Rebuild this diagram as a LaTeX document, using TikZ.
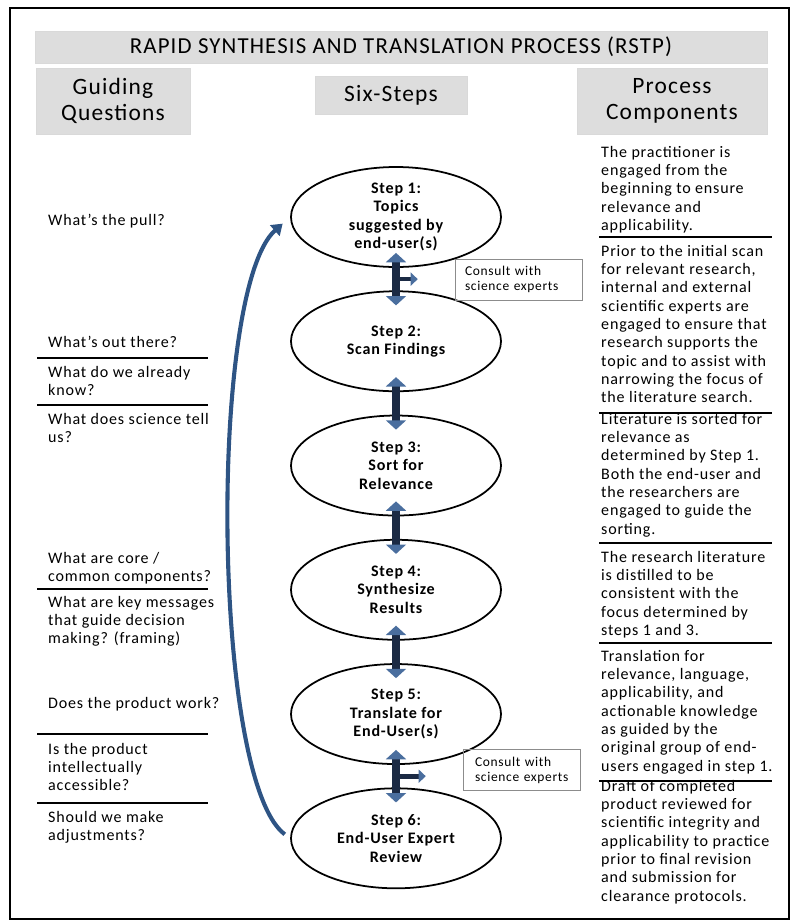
\documentclass[tikz,border=0pt]{standalone}
\usepackage{fontspec}
\setmainfont{Carlito}
\newfontfamily\rstpfont[LetterSpace=5]{Carlito}
\usetikzlibrary{shapes.geometric,arrows.meta,positioning}
\definecolor{linknavy}{HTML}{1B2A44}
\definecolor{linkblue}{HTML}{4A6E9E}
\definecolor{loopblue}{HTML}{2E5484}
\definecolor{headgrey}{HTML}{DDDDDD}
\begin{document}
\begin{tikzpicture}[x=0.03cm, y=-0.03cm, node distance=0.675cm,
    txt/.style={anchor=north west, inner sep=0pt, align=left, font=\rstpfont\fontsize{13.7}{15.6}\selectfont},
    head/.style={fill=headgrey, draw=black!15, inner sep=0pt, align=center, font=\rstpfont\fontsize{20}{22.2}\selectfont},
    stepnode/.style={ellipse, draw, line width=1.5pt, minimum width=6.3cm, minimum height=3cm, inner sep=0pt, align=center, font=\rstpfont\bfseries\fontsize{13.7}{15.6}\selectfont},
    consult/.style={draw=black!45, inner ysep=0pt, align=left, minimum height=1.22cm, font=\rstpfont\fontsize{11.5}{12.8}\selectfont},
    link/.style={line width=6pt, draw=linknavy, {Triangle[color=linkblue,width=17pt,length=8pt]}-{Triangle[color=linkblue,width=17pt,length=8pt]}, shorten <=-0.45cm, shorten >=-0.45cm},
    branch/.style={line width=4pt, draw=linknavy, -{Triangle[color=linkblue,width=11pt,length=6pt]}, shorten >=1.11cm},
    backarrow/.style={line width=3.5pt, draw=loopblue, -{Triangle[width=12pt,length=9pt]}, shorten <=0.2cm, shorten >=0.3cm},
    divider/.style={line width=1.4pt}]
    \useasboundingbox (0,0) rectangle (791,923);
    \draw[line width=2pt] (10,8) rectangle (789,919);

    \node[head, minimum width=21.96cm, minimum height=0.96cm, font=\rstpfont\fontsize{19.5}{22}\selectfont] (title) at (401,47) {RAPID SYNTHESIS AND TRANSLATION PROCESS (RSTP)};
    \node[head, minimum width=4.62cm, minimum height=1.98cm] (guide) at (113,101) {Guiding\\Questions};
    \node[head, minimum width=4.56cm, minimum height=1.14cm] (six) at (391,95.5) {Six-Steps};
    \node[head, minimum width=5.7cm, minimum height=1.98cm] (comp) at (672,101) {Process\\Components};

    \node[stepnode] (s1) at (396,217) {Step 1:\\Topics\\suggested by\\end-user(s)};
    \node[stepnode, below=of s1] (s2) {Step 2:\\Scan Findings};
    \node[stepnode, below=of s2] (s3) {Step 3:\\Sort for\\Relevance};
    \node[stepnode, below=of s3] (s4) {Step 4:\\Synthesize\\Results};
    \node[stepnode, below=of s4] (s5) {Step 5:\\Translate for\\End-User(s)};
    \node[stepnode, below=of s5] (s6) {Step 6:\\End-User Expert\\Review};

    \node[consult, text width=3.21cm, inner xsep=0.3cm] (c1) at (518.5,279.5) {Consult with\\science experts};
    \node[consult, text width=2.79cm, inner xsep=0.36cm] (c2) at (521.5,770) {Consult with\\science experts};

    \draw[link] (s1) -- coordinate[midway] (j1) (s2);
    \draw[link] (s2) -- (s3);
    \draw[link] (s3) -- (s4);
    \draw[link] (s4) -- (s5);
    \draw[link] (s5) -- coordinate[midway] (j2) (s6);
    \draw[branch] (j1) -- (j1 -| c1.west);
    \draw[branch] (j2) -- (j2 -| c2.west);
    \draw[backarrow] (s6.west) .. controls (212,780) and (208,290) .. (s1.west);

    \node[txt] (q1) at (48,214) {What’s the pull?};
    \node[txt] (q2) at (48,336) {What’s out there?};
    \node[txt] (q3) at (48,366) {What do we already\\know?};
    \node[txt] (q4) at (48,413) {What does science tell\\us?};
    \node[txt] (q5) at (48,552) {What are core /\\common components?};
    \node[txt] (q6) at (48,596) {What are key messages\\that guide decision\\making? (framing)};
    \node[txt] (q7) at (48,697) {Does the product work?};
    \node[txt] (q8) at (48,743) {Is the product\\intellectually\\accessible?};
    \node[txt] (q9) at (48,811) {Should we make\\adjustments?};
    \foreach \y in {358,405,589,734,803}
        \draw[divider] (37,\y) -- (208,\y);

    \node[txt] (p1) at (601,146) {The practitioner is\\engaged from the\\beginning to ensure\\relevance and\\applicability.};
    \node[txt] (p2) at (601,245) {Prior to the initial scan\\for relevant research,\\internal and external\\scientific experts are\\engaged to ensure that\\research supports the\\topic and to assist with\\narrowing the focus of\\the literature search.};
    \node[txt] (p3) at (601,413) {Literature is sorted for\\relevance as\\determined by Step 1.\\Both the end-user and\\the researchers are\\engaged to guide the\\sorting.};
    \node[txt] (p4) at (601,551) {The research literature\\is distilled to be\\consistent with the\\focus determined by\\steps 1 and 3.};
    \node[txt] (p5) at (601,650) {Translation for\\relevance, language,\\applicability, and\\actionable knowledge\\as guided by the\\original group of end-\\users engaged in step 1.};
    \node[txt] (p6) at (601,780) {Draft of completed\\product reviewed for\\scientific integrity and\\applicability to practice\\prior to final revision\\and submission for\\clearance protocols.};
    \foreach \y in {237,413,543,643,781}
        \draw[divider] (599,\y) -- (772,\y);
\end{tikzpicture}
\end{document}
